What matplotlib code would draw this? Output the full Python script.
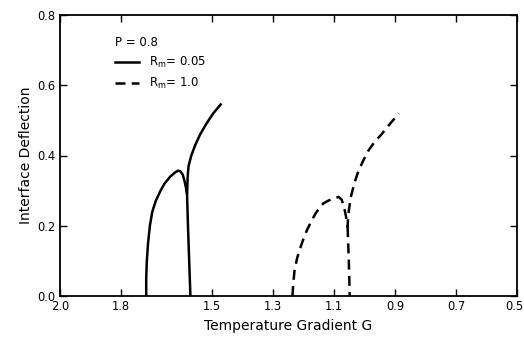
import matplotlib
matplotlib.use("Agg")
import matplotlib.pyplot as plt
import matplotlib.transforms as mtransforms
from matplotlib.lines import Line2D

plt.rcParams['font.family'] = ['DejaVu Sans']
plt.rcParams['mathtext.default'] = 'regular'

# Rm = 0.05 (solid): bottom-left -> peak -> cusp -> upper end
solid_main_G = [1.717, 1.717, 1.715, 1.711, 1.705, 1.697, 1.686, 1.670, 1.657, 1.638, 1.622,
                1.612, 1.604, 1.597, 1.592, 1.587, 1.583,
                1.582, 1.581, 1.578, 1.569, 1.556, 1.540, 1.520, 1.497, 1.470]
solid_main_y = [0.0, 0.05, 0.10, 0.15, 0.20, 0.24, 0.27, 0.30, 0.32, 0.34, 0.352,
                0.357, 0.354, 0.345, 0.33, 0.31, 0.29,
                0.31, 0.34, 0.37, 0.40, 0.43, 0.46, 0.49, 0.52, 0.548]
# Rm = 0.05 lower branch from cusp down to axis
solid_low_G = [1.583, 1.580, 1.576, 1.572]
solid_low_y = [0.29, 0.20, 0.10, 0.0]

# Rm = 1.0 (dashed): bottom-left -> peak -> cusp -> upper end
dashed_main_G = [1.237, 1.234, 1.230, 1.221, 1.210, 1.198, 1.188, 1.174, 1.161, 1.148, 1.135,
                 1.118, 1.100, 1.086, 1.076, 1.068, 1.061, 1.056,
                 1.054, 1.046, 1.034, 1.023, 1.005, 0.987, 0.966, 0.945, 0.917, 0.888]
dashed_main_y = [0.0, 0.04, 0.074, 0.11, 0.14, 0.17, 0.19, 0.215, 0.235, 0.252, 0.264,
                 0.272, 0.278, 0.282, 0.275, 0.255, 0.225, 0.196,
                 0.23, 0.28, 0.32, 0.35, 0.385, 0.415, 0.44, 0.46, 0.49, 0.52]
# Rm = 1.0 lower branch
dashed_low_G = [1.056, 1.052, 1.049]
dashed_low_y = [0.196, 0.10, 0.0]

x_ticks = [2.0, 1.8, 1.5, 1.3, 1.1, 0.9, 0.7, 0.5]
y_ticks = [0.0, 0.2, 0.4, 0.6, 0.8]

fig = plt.figure(figsize=(5.24, 3.39), dpi=100)
ax = fig.add_axes([60/524, 1 - 296/339, (517 - 60)/524, (296 - 15)/339])

kw = dict(color='black', lw=1.8, solid_capstyle='butt', solid_joinstyle='round')
ax.plot(solid_main_G, solid_main_y, **kw)
ax.plot(solid_low_G, solid_low_y, **kw)
ax.plot(dashed_main_G, dashed_main_y, color='black', lw=1.8, dashes=(4, 2.5))
ax.plot(dashed_low_G, dashed_low_y, color='black', lw=1.8, dashes=(4, 2.5))

ax.set_xlim(2.0, 0.5)
ax.set_ylim(0.0, 0.8)
ax.set_xticks(x_ticks)
ax.set_xticklabels([f"{v:.1f}" for v in x_ticks])
ax.set_yticks(y_ticks)
ax.set_yticklabels([f"{v:.1f}" for v in y_ticks])
ax.tick_params(direction='in', top=True, right=True, length=5, width=1,
               labelsize=8.3, pad=3)
for s in ax.spines.values():
    s.set_linewidth(1.3)

# keep the last x tick label inside the figure
last = ax.get_xticklabels()[-1]
last.set_transform(last.get_transform() +
                   mtransforms.ScaledTranslation(-3/100, 0, fig.dpi_scale_trans))

ax.set_xlabel("Temperature Gradient G", fontsize=10, labelpad=4)
ax.set_ylabel("Interface Deflection", fontsize=10, labelpad=3)

handles = [Line2D([], [], color='black', lw=1.8),
           Line2D([], [], color='black', lw=1.8, dashes=(4, 2.5))]
labels = ["R$_m$= 0.05", "R$_m$= 1.0"]
leg = ax.legend(handles, labels, title="P = 0.8", loc='upper left',
                bbox_to_anchor=(0.11, 0.943), frameon=False, fontsize=8.5,
                title_fontsize=8.5, alignment='left', handlelength=2.0,
                handletextpad=0.9, labelspacing=0.5, borderaxespad=0)

fig.savefig("out.png", dpi=100)
